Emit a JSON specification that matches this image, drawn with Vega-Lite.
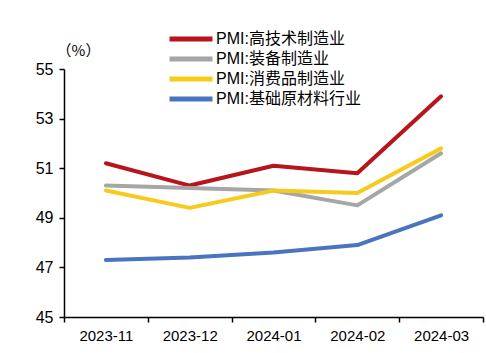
{
  "$schema": "https://vega.github.io/schema/vega-lite/v6.json",
  "width": 419,
  "height": 248,
  "autosize": {"type": "none"},
  "padding": {"left": 64, "top": 69, "right": 3, "bottom": 36},
  "background": "white",
  "config": {"view": {"stroke": null}, "font": "Noto Sans CJK SC"},
  "data": {"values": [
    {"month": "2023-11", "series": "PMI:高技术制造业", "v": 51.2},
    {"month": "2023-12", "series": "PMI:高技术制造业", "v": 50.3},
    {"month": "2024-01", "series": "PMI:高技术制造业", "v": 51.1},
    {"month": "2024-02", "series": "PMI:高技术制造业", "v": 50.8},
    {"month": "2024-03", "series": "PMI:高技术制造业", "v": 53.9},
    {"month": "2023-11", "series": "PMI:装备制造业", "v": 50.3},
    {"month": "2023-12", "series": "PMI:装备制造业", "v": 50.2},
    {"month": "2024-01", "series": "PMI:装备制造业", "v": 50.1},
    {"month": "2024-02", "series": "PMI:装备制造业", "v": 49.5},
    {"month": "2024-03", "series": "PMI:装备制造业", "v": 51.6},
    {"month": "2023-11", "series": "PMI:消费品制造业", "v": 50.1},
    {"month": "2023-12", "series": "PMI:消费品制造业", "v": 49.4},
    {"month": "2024-01", "series": "PMI:消费品制造业", "v": 50.1},
    {"month": "2024-02", "series": "PMI:消费品制造业", "v": 50.0},
    {"month": "2024-03", "series": "PMI:消费品制造业", "v": 51.8},
    {"month": "2023-11", "series": "PMI:基础原材料行业", "v": 47.3},
    {"month": "2023-12", "series": "PMI:基础原材料行业", "v": 47.4},
    {"month": "2024-01", "series": "PMI:基础原材料行业", "v": 47.6},
    {"month": "2024-02", "series": "PMI:基础原材料行业", "v": 47.9},
    {"month": "2024-03", "series": "PMI:基础原材料行业", "v": 49.1}
  ]},
  "mark": {"type": "line", "strokeWidth": 4, "strokeCap": "round", "strokeJoin": "round"},
  "encoding": {
    "x": {
      "field": "month", "type": "ordinal",
      "scale": {"type": "band", "paddingInner": 0, "paddingOuter": 0},
      "axis": {
        "title": null, "labelAngle": 0, "tickBand": "extent",
        "domainColor": "black", "domainWidth": 1.5, "tickColor": "black", "tickWidth": 1.5, "tickSize": 5,
        "labelFont": "Liberation Sans", "labelFontSize": 15, "labelColor": "black", "labelPadding": 6
      }
    },
    "y": {
      "field": "v", "type": "quantitative",
      "scale": {"domain": [45, 55], "nice": false, "zero": false},
      "axis": {
        "values": [45, 47, 49, 51, 53, 55], "grid": false,
        "title": "（%）", "titleAngle": 0, "titleX": 14, "titleY": -11, "titleAlign": "center", "titleBaseline": "bottom",
        "titleFontSize": 15, "titleFontWeight": "normal", "titleColor": "black",
        "domainColor": "black", "domainWidth": 1.5, "tickColor": "black", "tickWidth": 1.5, "tickSize": 5,
        "labelFont": "Liberation Sans", "labelFontSize": 16, "labelColor": "black", "labelPadding": 6
      }
    },
    "color": {
      "field": "series", "type": "nominal",
      "scale": {
        "domain": ["PMI:高技术制造业", "PMI:装备制造业", "PMI:消费品制造业", "PMI:基础原材料行业"],
        "range": ["#B8141C", "#A6A6A6", "#F7CB1E", "#4A74C0"]
      },
      "legend": {
        "title": null, "orient": "none", "legendX": 119, "legendY": -38,
        "symbolType": "M-4.3,0H4.3", "symbolSize": 100, "symbolStrokeWidth": 5, "symbolStrokeCap": "round",
        "labelFont": "Liberation Sans, Noto Sans CJK SC",
        "labelFontSize": 16, "labelColor": "black", "labelOffset": 17, "rowPadding": 0
      }
    },
    "order": {"field": "series"}
  }
}
